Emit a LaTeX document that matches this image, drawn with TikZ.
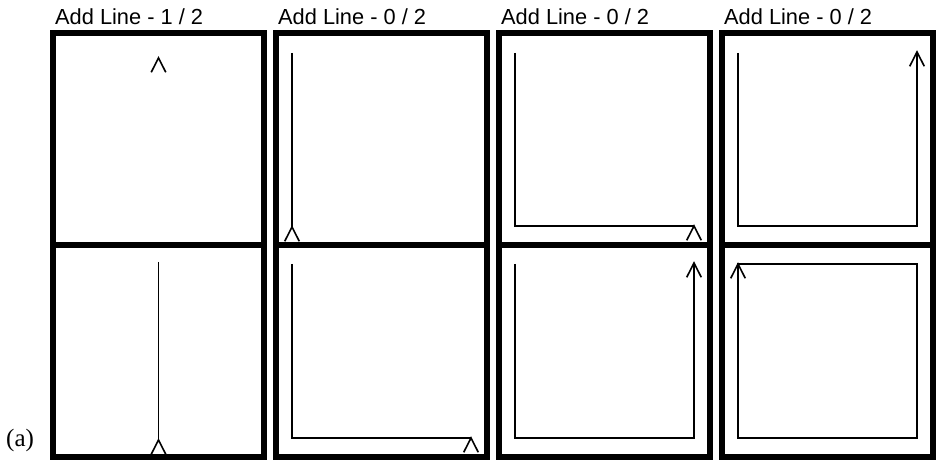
\documentclass[tikz,border=0pt]{standalone}
\usepackage{fontspec}
\setmainfont{Liberation Serif}
\newfontfamily\titlefont{Liberation Sans}
\begin{document}
\begin{tikzpicture}[x=1pt,y=-1pt,
  frame/.style={line width=6pt,line join=miter},
  trace/.style={line width=1.4pt,line join=miter},
  chevron/.style={line width=1.6pt,line join=miter},
  paneltitle/.style={anchor=base west,inner sep=0pt,font=\titlefont\fontsize{21.8}{24}\selectfont},
  tag/.style={anchor=base west,inner sep=0pt,font=\fontsize{25}{28}\selectfont}]
\useasboundingbox (0,0) rectangle (937,462);
\newcommand{\chv}[2]{\draw[chevron] (#1-7.3,#2+14.3) -- (#1,#2) -- (#1+7.3,#2+14.3);}
% frames and titles
\foreach \k/\t in {0/1,1/0,2/0,3/0}{
  \pgfmathsetmacro{\L}{53+223*\k}
  \pgfmathsetmacro{\R}{\L+210.5}
  \draw[frame] (\L,33.5) rectangle (\R,457);
  \draw[frame] (\L,245.5) -- (\R,245.5);
  \node[paneltitle] (title\k) at (\L+2,25) {Add Line - \t\ / 2};
}
% panel 1
\chv{158.5}{58}
\draw[trace] (158.5,262) -- (158.5,440);
\chv{158.5}{440}
% panel 2
\draw[trace] (292,53) -- (292,227);
\chv{292}{227}
\draw[trace] (292,264) -- (292,438) -- (471,438);
\chv{471}{438}
% panel 3
\draw[trace] (515,53) -- (515,226) -- (694,226);
\chv{694}{226}
\draw[trace] (515,264) -- (515,438) -- (694,438) -- (694,263);
\chv{694}{263}
% panel 4
\draw[trace] (738,53) -- (738,226) -- (917,226) -- (917,52);
\chv{917}{52}
\draw[trace] (738,264) -- (738,438) -- (917,438) -- (917,264) -- cycle;
\chv{738}{264}
% tag
\node[tag] (tagA) at (6,446) {(a)};
\end{tikzpicture}
\end{document}
